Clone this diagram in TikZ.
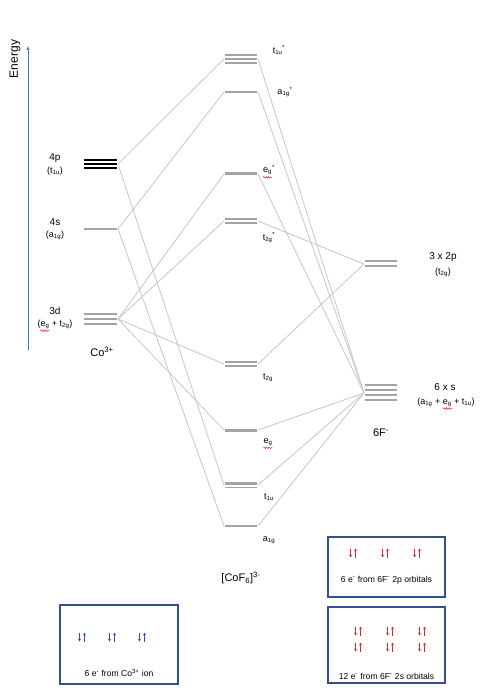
\documentclass[tikz,border=0pt]{standalone}
\usepackage{fontspec}
\setmainfont{Liberation Sans}
\usetikzlibrary{arrows.meta,decorations.pathmorphing}

\definecolor{levelgray}{HTML}{A4A4A4}
\definecolor{linkgray}{HTML}{C6C6C6}
\definecolor{boxblue}{HTML}{34508C}
\definecolor{axisblue}{HTML}{4A78C4}
\definecolor{spinred}{HTML}{E2262E}
\definecolor{spinblue}{HTML}{2452BE}

\tikzset{
  level/.style={draw=levelgray, line width=2pt},
  link/.style={draw=linkgray, line width=0.8pt},
  lbl/.style={inner sep=0pt, font=\fontsize{10}{12}\selectfont},
  orb/.style={inner sep=0pt, font=\fontsize{9}{11}\selectfont},
  big/.style={inner sep=0pt, font=\fontsize{11}{13}\selectfont},
  ebox/.style={draw=boxblue, line width=1.1pt, minimum width=117pt, inner sep=0pt},
  etext/.style={inner sep=0pt, font=\fontsize{8.6}{10}\selectfont},
  spin/.style={line width=0.8pt, -{Stealth[length=2.8pt,width=2.8pt]}},
  squig/.style={draw=spinred, line width=0.5pt, decorate,
    decoration={snake, amplitude=0.8pt, segment length=2.5pt}}
}

% one pair of opposite spins: x, y, colour
\newcommand\spinpair[3]{%
  \draw[spin, #3] (#1-2.5,#2-4.5) -- (#1-2.5,#2+4.5);
  \draw[spin, #3] (#1+2.5,#2+4.5) -- (#1+2.5,#2-4.5);
}

\begin{document}
\begin{tikzpicture}[x=1pt, y=-1pt]
	\useasboundingbox (0,0) rectangle (488,700);
	% energy axis
	\coordinate (axbot) at (28,350);
	\coordinate (axtop) at (28,46);
	\draw[draw=axisblue, line width=0.9pt, -{Latex[length=4pt,width=3.5pt]}] (axbot) -- (axtop);
	\node[lbl, rotate=90, font=\fontsize{12}{14}\selectfont] (energy) at (15,59) {Energy};
	% end points of the levels
	\coordinate (p4) at (118,164);
	\coordinate (s4) at (118,229);
	\coordinate (d3) at (118,319);
	\coordinate (t1uaL) at (224,59);  \coordinate (t1uaR) at (258,59);
	\coordinate (a1gaL) at (224,92);  \coordinate (a1gaR) at (258,92);
	\coordinate (egaL) at (224,174);  \coordinate (egaR) at (258,174);
	\coordinate (t2gaL) at (224,221); \coordinate (t2gaR) at (258,221);
	\coordinate (t2gL) at (224,364);  \coordinate (t2gR) at (258,364);
	\coordinate (egL) at (224,430);   \coordinate (egR) at (258,430);
	\coordinate (t1uL) at (224,485);  \coordinate (t1uR) at (258,485);
	\coordinate (a1gL) at (224,526);  \coordinate (a1gR) at (258,526);
	\coordinate (fp) at (364,264);
	\coordinate (fs) at (364,393);
	% metal to complex
	\draw[link] (p4) -- (t1uaL);
	\draw[link] (p4) -- (t1uL);
	\draw[link] (s4) -- (a1gaL);
	\draw[link] (s4) -- (a1gL);
	\foreach \m in {egaL,t2gaL,t2gL,egL}
		\draw[link] (d3) -- (\m);
	% ligands to complex
	\foreach \m in {t1uaR,a1gaR,egaR,egR,t1uR,a1gR}
		\draw[link] (fs) -- (\m);
	\foreach \m in {t2gaR,t2gR}
		\draw[link] (fp) -- (\m);
	% Co3+ levels
	\foreach \y in {160,164,168}
		\draw[level, draw=black] (84,\y) -- (117,\y);
	\draw[level] (84,229) -- (117,229);
	\foreach \y in {314,319,324}
		\draw[level] (84,\y) -- (117,\y);
	% [CoF6]3- levels
	\foreach \y in {55,59,63}
		\draw[level, line width=1.6pt] (225,\y) -- (257,\y);
	\draw[level] (225,92) -- (257,92);
	\draw[level, line width=3pt] (225,174) -- (257,174);
	\foreach \y in {219,223}
		\draw[level] (225,\y) -- (257,\y);
	\foreach \y in {362,366}
		\draw[level] (225,\y) -- (257,\y);
	\draw[level, line width=3pt] (225,430) -- (257,430);
	\draw[level, line width=3pt] (225,483) -- (257,483);
	\draw[level, line width=1.5pt] (225,487.5) -- (257,487.5);
	\draw[level] (225,526) -- (257,526);
	% 6F- levels
	\foreach \y in {261,266}
		\draw[level] (365,\y) -- (397,\y);
	\foreach \y in {385,390,395,400}
		\draw[level] (365,\y) -- (397,\y);
	% Co3+ labels
	\node[lbl] (l4p) at (55,158) {4p};
	\node[orb] (l4pt) at (55,171) {(t\textsubscript{1u})};
	\node[lbl] (l4s) at (55,222) {4s};
	\node[orb] (l4sa) at (55,235) {(a\textsubscript{1g})};
	\node[lbl] (l3d) at (55,311) {3d};
	\node[orb] (l3de) at (55,324) {(e\textsubscript{g} + t\textsubscript{2g})};
	\node[big] (lco) at (102,352) {Co\textsuperscript{3+}};
	% [CoF6]3- labels
	\node[orb] (lt1ua) at (279,50) {t\textsubscript{1u}\textsuperscript{*}};
	\node[orb] (la1ga) at (285,92) {a\textsubscript{1g}\textsuperscript{*}};
	\node[orb] (lega) at (269,170) {e\textsubscript{g}\textsuperscript{*}};
	\node[orb] (lt2ga) at (269,238) {t\textsubscript{2g}\textsuperscript{*}};
	\node[orb] (lt2g) at (268,378) {t\textsubscript{2g}};
	\node[orb] (leg) at (268,442) {e\textsubscript{g}};
	\node[orb] (lt1u) at (269,497) {t\textsubscript{1u}};
	\node[orb] (la1g) at (269,540) {a\textsubscript{1g}};
	\node[big] (lcof) at (241,578) {[CoF\textsubscript{6}]\textsuperscript{3-}};
	% 6F- labels
	\node[lbl] (l2p) at (443,257) {3 x 2p};
	\node[orb] (l2pt) at (443,272) {(t\textsubscript{2g})};
	\node[lbl] (ls) at (445,387) {6 x s};
	\node[orb] (lsa) at (446,402) {(a\textsubscript{1g} + e\textsubscript{g} + t\textsubscript{1u})};
	\node[big] (lf) at (381,433) {6F\textsuperscript{-}};
	% spelling marks under e_g
	\draw[squig] ([xshift=3pt,yshift=-2pt]l3de.south west) -- ++(9,0);
	\draw[squig] ([xshift=0pt,yshift=-2pt]lega.south west) -- ++(9,0);
	\draw[squig] ([xshift=0pt,yshift=-2pt]leg.south west) -- ++(9,0);
	\draw[squig] ([xshift=26pt,yshift=-2pt]lsa.south west) -- ++(9,0);
	% electron boxes
	\node[ebox, minimum height=60pt] (box2p) at (386.5,567) {};
	\node[ebox, minimum height=76pt] (box2s) at (386.5,645) {};
	\node[ebox, minimum width=118pt, minimum height=79pt] (boxco) at (119,644.5) {};
	\node[etext] (t2p) at (386.5,580) {6 e\textsuperscript{-} from 6F\textsuperscript{-} 2p orbitals};
	\node[etext] (t2s) at (386.5,676) {12 e\textsuperscript{-} from 6F\textsuperscript{-} 2s orbitals};
	\node[etext] (tco) at (119,673) {6 e\textsuperscript{-} from Co\textsuperscript{3+} ion};
	\foreach \x in {353,385,417} {
		\spinpair{\x}{553}{spinred}
	}
	\foreach \x in {358,390,422} {
		\spinpair{\x}{631}{spinred}
		\spinpair{\x}{647}{spinred}
	}
	\foreach \x in {82,112,142} {
		\spinpair{\x}{637}{spinblue}
	}
\end{tikzpicture}
\end{document}
